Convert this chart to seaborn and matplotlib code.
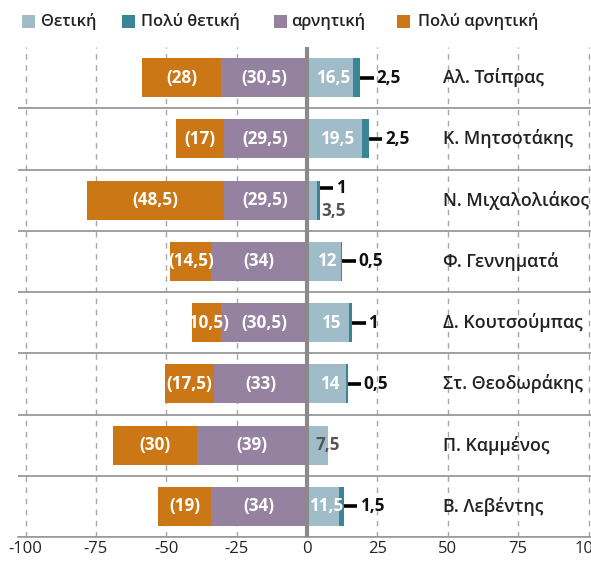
import matplotlib
matplotlib.use("Agg")
import matplotlib.pyplot as plt
from matplotlib.patches import Rectangle
import seaborn as sns
import pandas as pd

names = ["Αλ. Τσίπρας", "Κ. Μητσοτάκης", "Ν. Μιχαλολιάκος", "Φ. Γεννηματά",
         "Δ. Κουτσούμπας", "Στ. Θεοδωράκης", "Π. Καμμένος", "Β. Λεβέντης"]
positive = [16.5, 19.5, 3.5, 12, 15, 14, 7.5, 11.5]
very_positive = [2.5, 2.5, 1, 0.5, 1, 0.5, 0, 1.5]
negative = [30.5, 29.5, 29.5, 34, 30.5, 33, 39, 34]
very_negative = [28, 17, 48.5, 14.5, 10.5, 17.5, 30, 19]
legend_labels = ["Θετική", "Πολύ θετική", "αρνητική", "Πολύ αρνητική"]
xticks = [-100, -75, -50, -25, 0, 25, 50, 75, 100]

c_pos = "#9fbcc8"
c_vpos = "#3a8596"
c_neg = "#9581a0"
c_vneg = "#cc7716"

FONT = "Open Sans"
sns.set_theme(style="white")
plt.rcParams["font.family"] = [FONT, "DejaVu Sans"]

df = pd.DataFrame({
    "name": names,
    "pos": positive,
    "pos_total": [p + v for p, v in zip(positive, very_positive)],
    "neg": [-n for n in negative],
    "neg_total": [-(n + v) for n, v in zip(negative, very_negative)],
})

FW, FH = 591, 566
fig = plt.figure(figsize=(FW / 100, FH / 100), dpi=100)
ax = fig.add_axes([18 / FW, 29 / FH, 573 / FW, 490 / FH])

W = 0.64
for col, color in [("neg_total", c_vneg), ("neg", c_neg), ("pos_total", c_vpos), ("pos", c_pos)]:
    sns.barplot(data=df, x=col, y="name", color=color, saturation=1, width=W,
                orient="h", ax=ax, zorder=3, linewidth=0)

ax.set_xlim((18 - 307) / 2.815, (591 - 307) / 2.815)
ax.set_ylim(7.5, -0.5)

# grid
for t in xticks:
    if t == 0:
        continue
    ax.axvline(t, color="#a8a8a8", lw=1, ls=(0, (4, 4)), zorder=1)
for i in range(len(names)):
    ax.axhline(i + 0.5, color="#999999", lw=1.3, zorder=2)
ax.axvline(0, color="#8a8a8a", lw=3, zorder=5)

ax.set_xticks(xticks)
ax.set_xticklabels([str(t) for t in xticks], fontsize=12, color="#222222")
ax.set_yticks([])
ax.set_xlabel("")
ax.set_ylabel("")
for s in ["top", "right", "left"]:
    ax.spines[s].set_visible(False)
ax.spines["bottom"].set_color("#999999")
ax.spines["bottom"].set_linewidth(1.2)
ax.tick_params(axis="x", direction="in", length=4, color="#999999", pad=3)

def fmt(v):
    return ("%g" % v).replace(".", ",")

LBL = 12.3
name_x = (443 - 307) / 2.815
for i, nm in enumerate(names):
    ax.text(name_x, i, nm, ha="left", va="center", fontsize=12.8, color="#222222",
            fontweight="semibold", zorder=6)
    vn, n = very_negative[i], negative[i]
    ax.text(-n - vn / 2, i, "(" + fmt(vn) + ")", ha="center", va="center", color="white",
            fontsize=LBL, fontweight="bold", zorder=6)
    ax.text(-n / 2, i, "(" + fmt(n) + ")", ha="center", va="center", color="white",
            fontsize=LBL, fontweight="bold", zorder=6)
    p, vp = positive[i], very_positive[i]
    if p < 5:
        ax.text(9.5, i + 0.17, fmt(p), ha="center", va="center", color="#555555",
                fontsize=LBL, fontweight="bold", zorder=6)
        ly = i - 0.2
    elif p < 10:
        ax.text(p / 2 + 3.5, i, fmt(p), ha="center", va="center", color="#555555",
                fontsize=LBL, fontweight="bold", zorder=6)
        ly = i
    else:
        ax.text(p / 2 + 1.1, i, fmt(p), ha="center", va="center", color="white",
                fontsize=LBL, fontweight="bold", zorder=6)
        ly = i
    if vp > 0:
        end = p + vp
        ax.plot([end, end + 4.8], [ly, ly], color="black", lw=2.6, zorder=6,
                solid_capstyle="butt")
        ax.text(end + 5.7, ly, fmt(vp), ha="left", va="center", color="#111111",
                fontsize=LBL, fontweight="bold", zorder=6)

# legend
sq_x = [22, 122, 273.5, 397]
tx_x = [40.5, 141, 291.5, 417.5]
for lab, c, sx, tx in zip(legend_labels, [c_pos, c_vpos, c_neg, c_vneg], sq_x, tx_x):
    fig.add_artist(Rectangle((sx / FW, 1 - 28 / FH), 13 / FW, 13 / FH,
                             transform=fig.transFigure, facecolor=c, edgecolor="none"))
    fig.text(tx / FW, 1 - 21.5 / FH, lab, ha="left", va="center", fontsize=11.8,
             fontweight="semibold", color="#222222")

fig.savefig("out.png", dpi=100)
